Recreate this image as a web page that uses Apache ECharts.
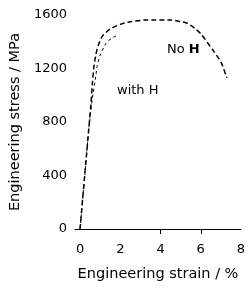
<!DOCTYPE html>
<html>
<head>
<meta charset="utf-8">
<script src="https://cdn.jsdelivr.net/npm/echarts@6/dist/echarts.min.js"></script>
<style>
    html, body { margin: 0; padding: 0; background: #fff; }
    #chart { width: 250px; height: 290px; }
</style>
</head>
<body>
<div id="chart"></div>
<script>
// strain (%) / stress (MPa)
const noHStrain = [0, 0.3, 0.43, 0.55, 0.62, 0.68, 0.78, 0.9, 1.1, 1.5, 2.0, 2.5, 3.3, 4.5, 5.3, 5.7, 6.0, 6.6, 7.0, 7.3]
const noHStress = [0, 516, 740, 950, 1100, 1200, 1300, 1370, 1440, 1495, 1530, 1550, 1563, 1563, 1540, 1500, 1460, 1338, 1250, 1130]
const withHStrain = [0, 0.3, 0.43, 0.6, 0.79, 0.85, 1.0, 1.3, 1.6, 1.9]
const withHStress = [0, 516, 740, 960, 1150, 1220, 1300, 1390, 1430, 1450]
const xLabels = [0, 2, 4, 6, 8]
const xTicks = [4, 6]
const yLabels = [0, 400, 800, 1200, 1600]

const font = 'DejaVu Sans'

function pairs(xs, ys) {
    return xs.map((x, i) => [x, ys[i]])
}

let chart = echarts.init(document.querySelector('#chart'))

let option = {
    animation: false,
    grid: { left: 74, right: 9, top: 15, bottom: 61 },
    xAxis: {
        type: 'value',
        min: -0.25,
        max: 8,
        name: 'Engineering strain / %',
        nameLocation: 'middle',
        nameGap: 38,
        nameTextStyle: { color: '#000', fontSize: 14.5, fontFamily: font },
        axisLine: { lineStyle: { color: '#000', width: 1 } },
        axisTick: { show: true, customValues: xTicks, length: 5, lineStyle: { color: '#000' } },
        axisLabel: { customValues: xLabels, color: '#000', fontSize: 13, fontFamily: font, margin: 14, formatter: (v) => String(v) },
        splitLine: { show: false }
    },
    yAxis: {
        type: 'value',
        min: 0,
        max: 1600,
        name: 'Engineering stress / MPa',
        nameLocation: 'middle',
        nameGap: 52,
        nameTextStyle: { color: '#000', fontSize: 14.5, fontFamily: font },
        axisLine: { show: false },
        axisTick: { show: false },
        axisLabel: { customValues: yLabels, color: '#000', fontSize: 13, fontFamily: font, margin: 8, formatter: (v) => String(v) },
        splitLine: { show: false }
    },
    series: [{
        name: 'No H',
        type: 'line',
        smooth: 0.2,
        symbol: 'none',
        data: pairs(noHStrain, noHStress),
        lineStyle: { color: '#000', width: 1.5, type: [5, 3] }
    }, {
        name: 'with H',
        type: 'line',
        smooth: 0.2,
        symbol: 'none',
        data: pairs(withHStrain, withHStress),
        lineStyle: { color: '#000', width: 1, type: [3, 3] }
    }],
    graphic: [{
        type: 'text',
        left: 167,
        top: 43,
        style: {
            text: '{a|No }{b|H}',
            rich: {
                a: { fill: '#000', fontSize: 13, fontFamily: font },
                b: { fill: '#000', fontSize: 13, fontFamily: font, fontWeight: 'bold' }
            }
        }
    }, {
        type: 'text',
        left: 117,
        top: 84,
        style: { text: 'with H', fill: '#000', fontSize: 13, fontFamily: font }
    }]
}

chart.setOption(option)
</script>
</body>
</html>
